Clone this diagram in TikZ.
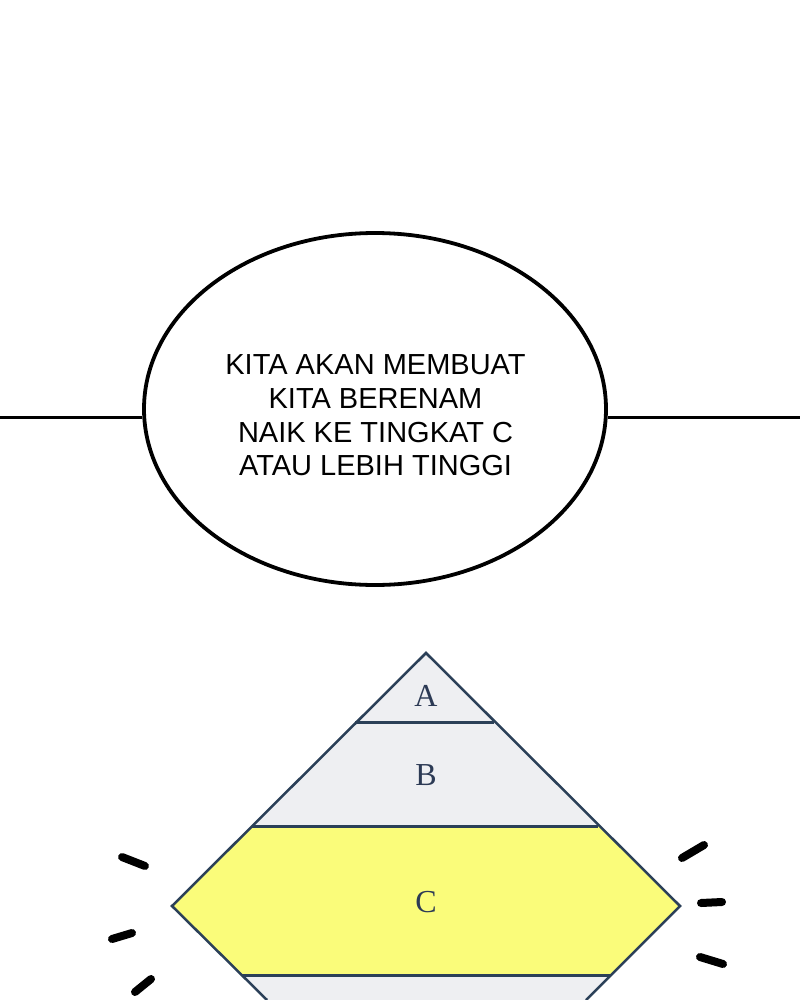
\documentclass[tikz,border=0pt]{standalone}
\usepackage{fontspec}
\newfontfamily\balloonfont{Liberation Sans}
\newfontfamily\tierfont{Liberation Serif}
\usetikzlibrary{shapes.geometric}
\definecolor{tiergray}{HTML}{EEEFF2}
\definecolor{tieryellow}{HTML}{FAFC7A}
\definecolor{tierline}{HTML}{2B4058}
\definecolor{tierink}{HTML}{2C3A55}
\tikzset{
	bubble/.style={draw,ellipse,line width=3.8pt,fill=white,minimum width=462pt,minimum height=352pt,inner sep=0pt},
	say/.style={align=center,inner sep=0pt,font=\balloonfont\fontsize{29}{33.7}\selectfont},
	tierlabel/.style={inner sep=0pt,text=tierink,font=\tierfont\fontsize{32}{32}\selectfont},
	flash/.style={line width=8pt,line cap=round},
}
\begin{document}
\begin{tikzpicture}[x=1pt,y=-1pt]
	\useasboundingbox (0,0) rectangle (800,1000);
	\fill[white] (0,0) rectangle (800,1000);
	\def\rim{417}
	% speech bubble on the line
	\coordinate (rim-l) at (0,\rim);
	\coordinate (rim-r) at (800,\rim);
	\node[bubble] (bubble) at (375,409) {};
	\draw[line width=3pt] (rim-l) -- (bubble.west |- rim-l);
	\draw[line width=3pt] (bubble.east |- rim-r) -- (rim-r);
	\node[say] (msg) at (375.5,415.5) {KITA AKAN MEMBUAT\\KITA BERENAM\\NAIK KE TINGKAT C\\ATAU LEBIH TINGGI};
	% pyramid
	\coordinate (top) at (426,653);
	\coordinate (ab-l) at (355,722);
	\coordinate (ab-r) at (494,722);
	\coordinate (bc-l) at (252,826);
	\coordinate (bc-r) at (598,826);
	\coordinate (c-l) at (172,906);
	\coordinate (c-r) at (680,906);
	\coordinate (cd-l) at (242,975);
	\coordinate (cd-r) at (611,975);
	\coordinate (d-l) at (267,1000);
	\coordinate (d-r) at (586,1000);
	\fill[tiergray] (top) -- (ab-l) -- (ab-r) -- cycle;
	\fill[tiergray] (ab-l) -- (bc-l) -- (bc-r) -- (ab-r) -- cycle;
	\fill[tieryellow] (bc-l) -- (c-l) -- (cd-l) -- (cd-r) -- (c-r) -- (bc-r) -- cycle;
	\fill[tiergray] (cd-l) -- (d-l) -- (d-r) -- (cd-r) -- cycle;
	\draw[tierline,line width=2.5pt] (d-l) -- (c-l) -- (top) -- (c-r) -- (d-r);
	\draw[tierline,line width=3pt] (ab-l) -- (ab-r) (bc-l) -- (bc-r) (cd-l) -- (cd-r);
	\node[tierlabel] (tier-a) at (426,696) {A};
	\node[tierlabel] (tier-b) at (426,775) {B};
	\node[tierlabel] (tier-c) at (426,902) {C};
	% flash marks
	\foreach \p/\q in {{(122,857)}/{(145,866)},{(112,939)}/{(132,933)},{(135,992)}/{(151,979)},{(682,858)}/{(704,845)},{(701,903)}/{(722,902)},{(700,957)}/{(723,964)}}
		\draw[flash] \p -- \q;
\end{tikzpicture}
\end{document}
